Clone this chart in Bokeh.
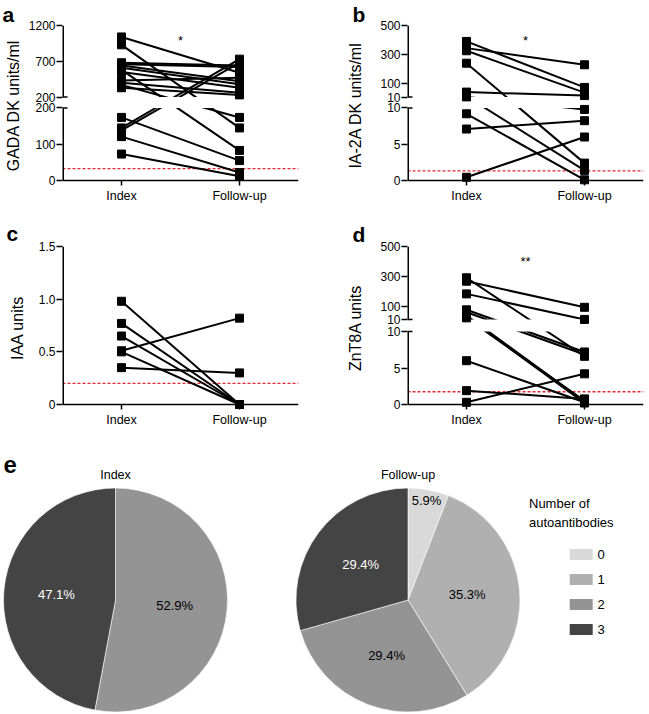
import math
from bokeh.plotting import figure
from bokeh.models import FixedTicker, Label, ColumnDataSource
from bokeh.layouts import column, row
from bokeh.embed import file_html
from bokeh.resources import INLINE
from bokeh.core.properties import value

FONT = "Liberation Sans"

# ------------------------------------------------------------------ data
x_categories = ["Index", "Follow-up"]

# a  GADA (DK units/ml)
gada_index = [1040, 930, 680, 660, 640, 610, 580, 550, 430, 400, 370, 330, 174, 145, 138, 121, 73]
gada_follow = [540, 145, 640, 620, 420, 380, 83, 330, 470, 260, 174, 230, 55, 730, 680, 22, 12]
gada_ticks_low = [0, 100, 200]
gada_ticks_high = [200, 700, 1200]
gada_cutoff = 33
gada_sig = "*"

# b  IA-2A (DK units/ml)
ia2a_index = [391, 345, 327, 242, 44, 15, 11, 9.2, 7.1, 0.45]
ia2a_follow = [76, 231, 40, 2.4, 20, 1.4, 9.8, 0.1, 8.25, 6.0]
ia2a_ticks_low = [0, 5, 10]
ia2a_ticks_high = [10, 100, 300, 500]
ia2a_cutoff = 1.33
ia2a_sig = "*"

# c  IAA (units)
iaa_index = [0.98, 0.77, 0.65, 0.51, 0.50, 0.35]
iaa_follow = [0.0, 0.0, 0.0, 0.82, 0.0, 0.30]
iaa_ticks = [0, 0.5, 1.0, 1.5]
iaa_tick_labels = ["0", "0.5", "1.0", "1.5"]
iaa_cutoff = 0.2
iaa_sig = ""

# d  ZnT8A (units)
znt8_index = [290, 267, 182, 75, 59, 37, 28, 21, 6.0, 1.9, 0.3]
znt8_follow = [6.6, 92, 10.5, 7.2, 6.85, 0.4, 0.2, 0.5, 0.3, 0.77, 4.2]
znt8_ticks_low = [0, 5, 10]
znt8_ticks_high = [10, 100, 300, 500]
znt8_cutoff = 1.75
znt8_sig = "**"

# e  number of autoantibodies (counts of 17 subjects)
ab_categories = ["0", "1", "2", "3"]
index_counts = [0, 0, 9, 8]
followup_counts = [1, 6, 5, 5]

# ------------------------------------------------------------------ helpers
GREYS = ["#d9d9d9", "#b0b0b0", "#949494", "#444444"]
TEXT_ON = ["black", "black", "black", "white"]
PX = 118.0  # pixels per x unit (frame width 236 over 2 units)


def seg_map(v, seg):
    v0, v1, p0, p1 = seg
    return p0 + (v - v0) * (p1 - p0) / (v1 - v0)


def to_disp(v, segs):
    for seg in segs[:-1]:
        if v <= seg[1]:
            return seg_map(v, seg)
    return seg_map(v, segs[-1])


def paired_panel(idx, fol, segs, tick_groups, label_groups, cutoff, sig, ylabel,
                 letter, width, height, borders, ylabel_standoff, letter_dx,
                 letter_standoff, sig_y):
    left, right, top, bottom = borders
    ytop = segs[-1][3]
    p = figure(width=width, height=height, x_range=(0.5, 2.5), y_range=(-5, ytop),
               output_backend="svg", toolbar_location=None,
               min_border_left=left, min_border_right=right,
               min_border_top=top, min_border_bottom=bottom)
    p.outline_line_color = None
    p.xgrid.visible = False
    p.ygrid.visible = False

    # panel letter as the figure title
    p.title.text = letter
    p.title.align = "left"
    p.title.offset = letter_dx
    p.title.standoff = letter_standoff
    p.title.vertical_align = "bottom"
    p.title.text_font = FONT
    p.title.text_font_size = "21px"
    p.title.text_font_style = "bold"
    p.title.text_color = "black"

    n = len(idx)
    src = ColumnDataSource(dict(
        x0=[1] * n, x1=[2] * n,
        y0=[to_disp(v, segs) for v in idx],
        y1=[to_disp(v, segs) for v in fol]))

    cy = to_disp(cutoff, segs)
    p.segment(x0=[0.5], y0=[cy], x1=[2.5], y1=[cy], line_color="#e0282e",
              line_width=1.3, line_dash="3 2")
    p.segment(x0="x0", y0="y0", x1="x1", y1="y1", source=src,
              line_color="black", line_width=2)
    if len(segs) > 1:
        p.quad(left=[0.5], right=[2.5], bottom=[segs[0][3]], top=[segs[1][2]],
               fill_color="white", line_color=None)
    p.scatter(x="x0", y="y0", source=src, marker="square", size=8,
              color="black")
    p.scatter(x="x1", y="y1", source=src, marker="square", size=8,
              color="black")

    # axis lines (with break)
    for seg in segs:
        p.segment(x0=[0.5], y0=[seg[2]], x1=[0.5], y1=[seg[3]],
                  line_color="black", line_width=3)
    if len(segs) > 1:
        stub = 5 / PX
        p.segment(x0=[0.5, 0.5], y0=[segs[0][3], segs[1][2]],
                  x1=[0.5 + stub, 0.5 + stub], y1=[segs[0][3], segs[1][2]],
                  line_color="black", line_width=1.5)
    p.segment(x0=[0.5], y0=[0], x1=[2.5], y1=[0], line_color="black",
              line_width=1.5)

    # x axis
    xa = p.xaxis[0]
    xa.ticker = FixedTicker(ticks=[1, 2])
    xa.major_label_overrides = {1: x_categories[0], 2: x_categories[1]}
    xa.axis_line_color = None
    xa.major_tick_in = 5
    xa.major_tick_out = 0
    xa.major_tick_line_width = 1.5
    xa.major_tick_line_color = "black"
    xa.minor_tick_line_color = None
    xa.major_label_standoff = 3
    xa.major_label_text_font = FONT
    xa.major_label_text_font_size = "12.5px"
    xa.major_label_text_color = "black"

    # y axis
    ticks, overrides = [], {}
    for seg, tvals, tlabs in zip(segs, tick_groups, label_groups):
        for tv, tl in zip(tvals, tlabs):
            d = seg_map(tv, seg)
            ticks.append(d)
            overrides[d] = tl
    ya = p.yaxis[0]
    ya.ticker = FixedTicker(ticks=ticks)
    ya.major_label_overrides = overrides
    ya.axis_line_color = None
    ya.major_tick_in = 0
    ya.major_tick_out = 6
    ya.major_tick_line_width = 1.5
    ya.major_tick_line_color = "black"
    ya.minor_tick_line_color = None
    ya.major_label_standoff = 1
    ya.major_label_text_font = FONT
    ya.major_label_text_font_size = "12px"
    ya.major_label_text_color = "black"
    ya.axis_label = ylabel
    ya.axis_label_text_font = FONT
    ya.axis_label_text_font_size = "16px"
    ya.axis_label_text_font_style = "normal"
    ya.axis_label_text_color = "black"
    ya.axis_label_standoff = ylabel_standoff

    if sig:
        p.add_layout(Label(x=1.5, y=sig_y, text=sig, text_align="center",
                           text_baseline="alphabetic", text_font=FONT,
                           text_font_size="13px", text_color="black"))
    return p


segsA = [(0, 200, 0, 73), (200, 1200, 84, 156)]
segsB = [(0, 10, 0, 73), (10, 500, 84, 156)]
segsC = [(0, 1.5, 0, 158)]
segsD = [(0, 10, 0, 73), (10, 500, 85, 158)]


def lab(v):
    return [str(t) for t in v]


pa = paired_panel(gada_index, gada_follow, segsA,
                  [gada_ticks_low, gada_ticks_high],
                  [lab(gada_ticks_low), lab(gada_ticks_high)],
                  gada_cutoff, gada_sig, "GADA DK units/ml", "a",
                  330, 210, (62, 32, 24, 25), 4, -60, 0, 141)
pb = paired_panel(ia2a_index, ia2a_follow, segsB,
                  [ia2a_ticks_low, ia2a_ticks_high],
                  [lab(ia2a_ticks_low), lab(ia2a_ticks_high)],
                  ia2a_cutoff, ia2a_sig, "IA-2A DK units/ml", "b",
                  318, 210, (77, 5, 24, 25), 13, -55, 0, 141)
pc = paired_panel(iaa_index, iaa_follow, segsC, [iaa_ticks], [iaa_tick_labels],
                  iaa_cutoff, iaa_sig, "IAA units", "c",
                  330, 222, (62, 32, 36, 23), 10, -56, 3, 143)
pd = paired_panel(znt8_index, znt8_follow, segsD,
                  [znt8_ticks_low, znt8_ticks_high],
                  [lab(znt8_ticks_low), lab(znt8_ticks_high)],
                  znt8_cutoff, znt8_sig, "ZnT8A units", "d",
                  318, 222, (77, 5, 36, 23), 13, -55, 2, 143)

# ------------------------------------------------------------------ pies
PW, PH = 648, 280
pe = figure(width=PW, height=PH, x_range=(0, PW), y_range=(0, PH),
            output_backend="svg", toolbar_location=None,
            x_axis_location=None, y_axis_location=None, min_border=0)
pe.outline_line_color = None
pe.xgrid.visible = False
pe.ygrid.visible = False

R = 112
pies = [("Index", index_counts, 115, 112.5), ("Follow-up", followup_counts, 407.5, 112.5)]
for title, counts, cx, cy in pies:
    total = sum(counts)
    cum = 0
    w = dict(start=[], end=[], color=[], lx=[], ly=[], txt=[], tcol=[])
    for k, c in enumerate(counts):
        if c == 0:
            continue
        f0 = cum / total
        cum += c
        f1 = cum / total
        s = math.pi / 2 - 2 * math.pi * f1
        e = math.pi / 2 - 2 * math.pi * f0
        mid = (s + e) / 2
        rl = R * (0.9 if c / total < 0.1 else 0.53)
        w["start"].append(s)
        w["end"].append(e)
        w["color"].append(GREYS[k])
        w["lx"].append(cx + rl * math.cos(mid))
        w["ly"].append(cy + rl * math.sin(mid))
        w["txt"].append("%.1f%%" % (100 * c / total))
        w["tcol"].append(TEXT_ON[k])
    src = ColumnDataSource(w)
    pe.wedge(x=cx, y=cy, radius=R, start_angle="start", end_angle="end",
             fill_color="color", line_color="white", line_width=0.6, source=src)
    pe.text(x="lx", y="ly", text="txt", text_color="tcol", source=src,
            text_align="center", text_baseline="middle",
            text_font=value(FONT), text_font_size="13px")
    pe.text(x=[cx], y=[cy + R + 13], text=[title], text_align="center",
            text_baseline="middle", text_font=value(FONT),
            text_font_size="12.5px", text_color="black")

# legend
pe.text(x=[528.5, 528.5], y=[209, 190.5], text=["Number of", "autoantibodies"],
        text_align="left", text_baseline="middle", text_font=value(FONT),
        text_font_size="13px", text_color="black")
leg_y = [158 - 25 * i for i in range(len(ab_categories))]
pe.rect(x=[580.7] * len(ab_categories), y=leg_y, width=23, height=11,
        fill_color=GREYS, line_color=None)
pe.text(x=[597] * len(ab_categories), y=leg_y, text=ab_categories,
        text_align="left", text_baseline="middle", text_font=value(FONT),
        text_font_size="13px", text_color="black")
pe.text(x=[3], y=[248.5], text=["e"], text_align="left",
        text_baseline="alphabetic", text_font=value(FONT),
        text_font_size="24px", text_font_style="bold", text_color="black")

layout = column(row(pa, pb), row(pc, pd), pe)
open("out.html", "w").write(file_html(layout, INLINE))
